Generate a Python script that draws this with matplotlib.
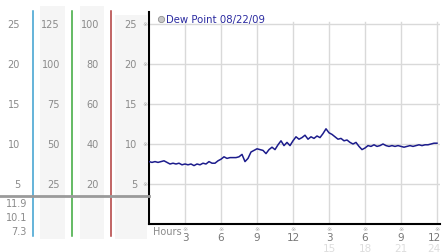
import numpy as np
import matplotlib
matplotlib.use("Agg")
import matplotlib.pyplot as plt
from matplotlib.transforms import blended_transform_factory

# ---------------- data ----------------
dew_point = [
    7.8, 7.7, 7.8, 7.7,   7.8, 7.9, 7.7, 7.5,   7.6, 7.5, 7.6, 7.4,
    7.5, 7.4, 7.5, 7.3,   7.5, 7.4, 7.6, 7.5,   7.8, 7.6, 7.6, 7.9,
    8.1, 8.4, 8.2, 8.3,   8.3, 8.3, 8.4, 8.7,   7.8, 8.2, 9.0, 9.2,
    9.4, 9.3, 9.2, 8.8,   9.3, 9.6, 9.3, 9.9,   10.4, 9.8, 10.2, 9.8,
    10.4, 10.9, 10.6, 10.8, 11.1, 10.6, 10.9, 10.7, 11.0, 10.8, 11.3, 11.9,
    11.4, 11.2, 10.9, 10.6, 10.7, 10.4, 10.5, 10.2, 10.0, 10.2, 9.7, 9.3,
    9.5, 9.8, 9.7, 9.9,   9.7, 9.8, 10.0, 9.8,  9.7, 9.8, 9.7, 9.8,
    9.7, 9.6, 9.7, 9.8,   9.7, 9.8, 9.9, 9.8,   9.9, 9.9, 10.0, 10.1,
    10.1,
]
hours = np.linspace(0, 24, len(dew_point))

y_ticks = [25, 20, 15, 10, 5]
scale_col1 = ["25", "20", "15", "10", "5"]
scale_col2 = ["125", "100", "75", "50", "25"]
scale_col3 = ["100", "80", "60", "40", "20"]
scale_col4 = ["25", "20", "15", "10", "5"]
stats = ["11.9", "10.1", "7.3"]
x_ticks = [3, 6, 9, 12, 15, 18, 21, 24]
x_labels = ["3", "6", "9", "12", "3", "6", "9", "12"]
x_labels2 = ["15", "18", "21", "24"]
legend_label = "Dew Point 08/22/09"

# ---------------- figure ----------------
W, H = 442, 253
fig = plt.figure(figsize=(W / 100, H / 100), dpi=100)
fig.patch.set_facecolor("white")

def fx(px):
    return px / W

def fy(py):
    return 1 - py / H

ax_left, ax_right, ax_top, ax_bot = 149, 440, 13, 225
ax = fig.add_axes([fx(ax_left), fy(ax_bot), fx(ax_right - ax_left), (ax_bot - ax_top) / H])
ax.set_xlim(0, 24.25)
ax.set_ylim(0, 26.5)
ax.set_facecolor("none")
for s in ["top", "right"]:
    ax.spines[s].set_visible(False)
for s in ["left", "bottom"]:
    ax.spines[s].set_color("black")
    ax.spines[s].set_linewidth(1.5)
ax.set_xticks([])
ax.set_yticks([])

grid_c = "#d9d9d9"
for v in y_ticks:
    ax.axhline(v, color=grid_c, lw=1, zorder=1)
for v in x_ticks:
    ax.axvline(v, ymin=0, ymax=25.3 / 26.5, color=grid_c, lw=1, zorder=1)

ax.plot(hours, dew_point, color="#1c1c8c", lw=1.1, zorder=3)

# legend
ax.text(fx(166), fy(20), legend_label, transform=fig.transFigure, color="#2a2aa0",
        fontsize=7.3, va="center", ha="left")
fig.add_artist(plt.Line2D([fx(160.5)], [fy(20)], transform=fig.transFigure, marker="o",
                          markersize=4.5, markerfacecolor="#c8c8c8", markeredgecolor="#909090",
                          markeredgewidth=0.6, linestyle="none"))

# ---------------- left panel ----------------
bg = "#f5f5f5"
for x0, x1, y0, y1 in [(40, 65, 7, 240), (80, 104, 7, 240), (115, 147, 16, 240)]:
    fig.patches.append(matplotlib.patches.Rectangle((fx(x0), fy(y1)), fx(x1 - x0), (y1 - y0) / H,
                                                    transform=fig.transFigure, facecolor=bg,
                                                    edgecolor="none", zorder=0))

for xpx, col in [(33, "#3a9fd0"), (72, "#3aa83a"), (111, "#b03a3a")]:
    fig.add_artist(plt.Line2D([fx(xpx), fx(xpx)], [fy(237), fy(12)], transform=fig.transFigure,
                              color=col, lw=1.1))

fig.add_artist(plt.Line2D([0, fx(149)], [fy(197), fy(197)], transform=fig.transFigure,
                          color="#9a9a9a", lw=2))

tr = blended_transform_factory(fig.transFigure, ax.transData)
lab_c = "#8a8a8a"
for v, a, b, c, d in zip(y_ticks, scale_col1, scale_col2, scale_col3, scale_col4):
    fig.text(fx(20), v, a, transform=tr, ha="right", va="center", fontsize=7, color=lab_c)
    fig.text(fx(60), v, b, transform=tr, ha="right", va="center", fontsize=7, color=lab_c)
    fig.text(fx(99), v, c, transform=tr, ha="right", va="center", fontsize=7, color=lab_c)
    fig.text(fx(137), v, d, transform=tr, ha="right", va="center", fontsize=7, color=lab_c)
    fig.text(fx(145), v, "\u203b", transform=tr, ha="center", va="center", fontsize=4.5, color="#aaaaaa")

for ypx, s in zip([204, 218, 232], stats):
    fig.text(fx(27), fy(ypx), s, ha="right", va="center", fontsize=7, color=lab_c)

# ---------------- x labels ----------------
trx = blended_transform_factory(ax.transData, fig.transFigure)
fig.text(fx(153), fy(232), "Hours", ha="left", va="center", fontsize=7, color=lab_c)
for i, (v, s) in enumerate(zip(x_ticks, x_labels)):
    fig.text(v, fy(230), "\u203b", transform=trx, ha="center", va="center", fontsize=4.5, color="#aaaaaa")
    if i == len(x_ticks) - 1:
        fig.text(fx(441), fy(238.5), s, ha="right", va="center", fontsize=7.5, color="#777777")
    else:
        fig.text(v, fy(238.5), s, transform=trx, ha="center", va="center", fontsize=7.5, color="#777777")
for i, (v, s) in enumerate(zip(x_ticks[4:], x_labels2)):
    if i == len(x_labels2) - 1:
        fig.text(fx(441), fy(249), s, ha="right", va="center", fontsize=7.5, color="#dddddd")
    else:
        fig.text(v, fy(249), s, transform=trx, ha="center", va="center", fontsize=7.5, color="#dddddd")

fig.savefig("out.png", dpi=100, facecolor="white")
